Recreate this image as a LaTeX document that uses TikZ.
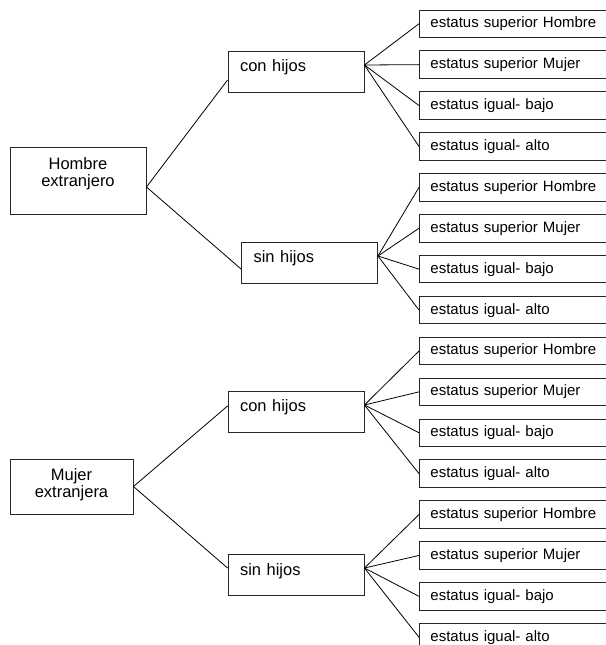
\documentclass[tikz,border=0pt]{standalone}
\usepackage{fontspec}
\setmainfont{Liberation Sans}
\usetikzlibrary{calc}
\begin{document}
\begin{tikzpicture}[x=1bp,y=-1bp,
  box/.style={draw=black!85, line width=0.9bp},
  rootbox/.style={box, font=\fontsize{16.5bp}{17.5bp}\selectfont, inner sep=0pt, text height=0bp},
  midbox/.style={box, font=\fontsize{16.5bp}{17.5bp}\selectfont, minimum width=136bp, minimum height=41bp, text width=112bp, align=left, inner xsep=12bp, inner ysep=0pt, text height=5bp, text depth=5bp},
  leafbox/.style={box, font=\fontsize{15bp}{18bp}\selectfont, anchor=west, minimum height=27.5bp, text width=180bp, align=left, inner xsep=11bp, inner ysep=0pt, text height=11bp, text depth=3bp},
  link/.style={line width=0.8bp}]
\clip (0,0) rectangle (606,645);
\useasboundingbox (0,0) rectangle (606,645);
\fill[white] (0,0) rectangle (606,645);

% root nodes
\node[rootbox, minimum width=136bp, minimum height=67bp, text depth=22.6bp] (hom) at (78,180.5)
  {\parbox[t]{120bp}{\centering Hombre\\extranjero}};
\node[rootbox, minimum width=123bp, minimum height=55bp, text depth=13bp] (muj) at (71.5,486.5)
  {\parbox[t]{110bp}{\centering Mujer\\extranjera}};

% middle nodes
\node[midbox] (con1) at (296,71.5) {con hijos};
\node[midbox] (sin1) at (309.5,262.5) {sin hijos};
\node[midbox] (con2) at (296,411.5) {con hijos};
\node[midbox] (sin2) at (296,575) {sin hijos};

% leaf nodes
\foreach \k/\t in {1/estatus superior Hombre, 2/estatus superior Mujer, 3/estatus igual- bajo, 4/estatus igual- alto,
                   5/estatus superior Hombre, 6/estatus superior Mujer, 7/estatus igual- bajo, 8/estatus igual- alto,
                   9/estatus superior Hombre, 10/estatus superior Mujer, 11/estatus igual- bajo, 12/estatus igual- alto,
                   13/estatus superior Hombre, 14/estatus superior Mujer, 15/estatus igual- bajo, 16/estatus igual- alto}
  \node[leafbox, name=r\k] at (419,{23.75+40.9*(\k-1)}) {\t};

% connection points
\coordinate (hp) at ($(hom.east)+(0,6.5)$);
\coordinate (mp) at (muj.east);
\coordinate (c1p) at ($(con1.east)+(0,-6.5)$);
\coordinate (s1p) at ($(sin1.east)+(0,-6.5)$);
\coordinate (c2p) at ($(con2.east)+(0,-6.5)$);
\coordinate (s2p) at ($(sin2.east)+(0,-7)$);

% connectors
\draw[link] (hp) -- ($(con1.west)+(0,8.5)$);
\draw[link] (hp) -- ($(sin1.west)+(0,6.5)$);
\draw[link] (mp) -- ($(con2.west)+(0,-5.5)$);
\draw[link] (mp) -- ($(sin2.west)+(0,-7)$);
\foreach \k in {1,...,4} \draw[link] (c1p) -- (r\k.west);
\foreach \k in {5,...,8} \draw[link] (s1p) -- (r\k.west);
\foreach \k in {9,...,12} \draw[link] (c2p) -- (r\k.west);
\foreach \k in {13,...,16} \draw[link] (s2p) -- (r\k.west);
\end{tikzpicture}
\end{document}
